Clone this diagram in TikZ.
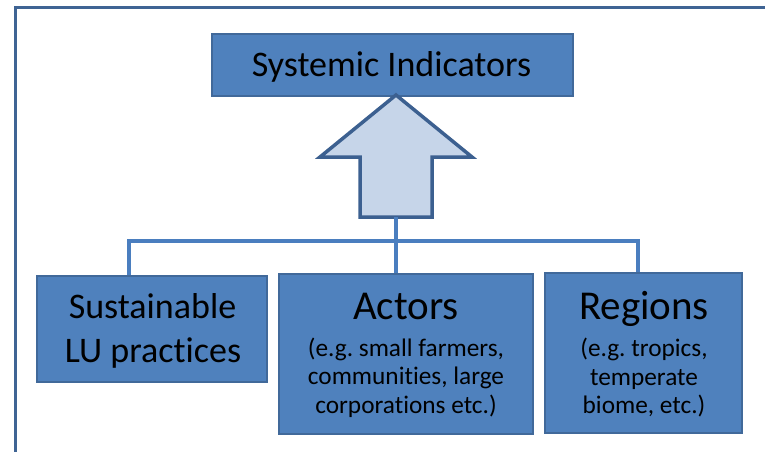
\documentclass[tikz,border=0pt]{standalone}
\usepackage{fontspec}
\setmainfont[Ligatures={NoCommon,NoRare}]{Carlito}
\frenchspacing
\definecolor{boxfill}{HTML}{4F81BD}
\definecolor{boxline}{HTML}{41699A}
\definecolor{arrfill}{HTML}{C6D5E9}
\definecolor{arrline}{HTML}{3C6090}
\definecolor{connline}{HTML}{4A7EBF}
\definecolor{frameline}{HTML}{3F6494}
\begin{document}
\begin{tikzpicture}[x=1pt,y=-1pt,
  box/.style={draw=boxline,fill=boxfill,line width=1.8pt,rectangle,inner sep=0pt},
  conn/.style={draw=connline,line width=3.8pt},
  txt/.style={anchor=base,inner sep=0pt,text=black},
  big/.style={font=\fontsize{36}{44}\selectfont},
  huge/.style={font=\fontsize{41}{48}\selectfont},
  small/.style={font=\fontsize{25.3}{28}\selectfont}]
\useasboundingbox (0,0) rectangle (765,452);
% frame
\draw[frameline,line width=3pt] (15,460) -- (15,8) -- (775,8);
% boxes
\node[box,minimum width=361pt,minimum height=62pt] (top) at (392.5,65) {};
\node[box,minimum width=230pt,minimum height=106pt] (sust) at (152,329) {};
\node[box,minimum width=254pt,minimum height=160pt] (actors) at (406,354) {};
\node[box,minimum width=197pt,minimum height=160pt] (regions) at (643.5,353) {};
% arrow
\coordinate (tip) at (396,95);
\coordinate (abase) at (396,217);
\draw[fill=arrfill,draw=arrline,line width=3.5pt,line join=miter]
  (tip) -- (472,157) -- (432,157) -- (432,217) -- (360,217) -- (360,157) -- (320,157) -- cycle;
% connectors
\coordinate (busL) at (129,241);
\coordinate (busR) at (638,241);
\draw[conn] (abase) -- (abase |- actors.north);
\draw[conn] (busL |- sust.north) |- (busR) -- (busR |- regions.north);
% texts
\node[txt,big] (topT) at (391.5,77) {Systemic Indicators};
\node[txt,big] (sustT1) at (152.5,318) {Sustainable};
\node[txt,big] (sustT2) at (153,362) {LU practices};
\node[txt,huge] (actT) at (406,319) {Actors};
\node[txt,small] (actT1) at (406,356) {(e.g. small farmers,};
\node[txt,small] (actT2) at (406,384.5) {communities, large};
\node[txt,small] (actT3) at (406,413) {corporations etc.)};
\node[txt,huge] (regT) at (644,319) {Regions};
\node[txt,small] (regT1) at (644,356.5) {(e.g. tropics,};
\node[txt,small] (regT2) at (644,385) {temperate};
\node[txt,small] (regT3) at (644,413) {biome, etc.)};
\end{tikzpicture}
\end{document}
